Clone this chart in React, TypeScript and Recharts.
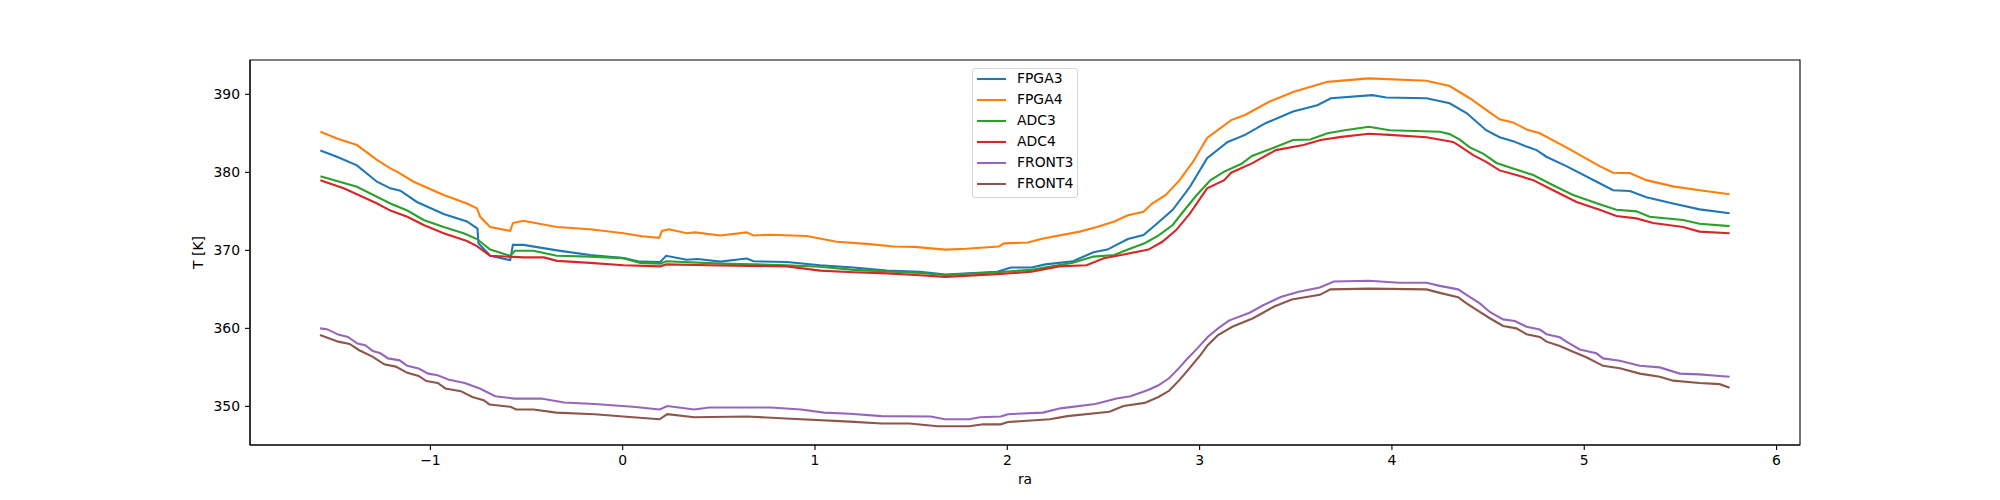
import { LineChart, Line, XAxis, YAxis, Legend, ReferenceArea } from "recharts";

// readings taken off the reference plot: [ra, T in K]
const FPGA3 = [
  [-1.572, 382.8], [-1.486, 382.0], [-1.382, 380.9], [-1.278, 378.8], [-1.208, 377.95], [-1.156, 377.65],
  [-1.07, 376.2], [-0.931, 374.65], [-0.81, 373.7], [-0.755, 372.8], [-0.75, 370.9], [-0.689, 369.3],
  [-0.585, 368.75], [-0.571, 370.7], [-0.516, 370.7], [-0.342, 370.0], [-0.169, 369.4], [0.004, 369.0],
  [0.091, 368.55], [0.195, 368.5], [0.226, 369.3], [0.333, 368.8], [0.39, 368.9], [0.507, 368.55],
  [0.61, 368.85], [0.645, 368.95], [0.68, 368.6], [0.853, 368.5], [1.027, 368.1], [1.2, 367.8],
  [1.373, 367.4], [1.546, 367.25], [1.678, 366.9], [1.947, 367.25], [2.019, 367.8], [2.126, 367.8],
  [2.198, 368.2], [2.341, 368.6], [2.448, 369.75], [2.52, 370.1], [2.627, 371.45], [2.708, 371.95],
  [2.77, 373.25], [2.86, 375.2], [2.95, 378.15], [3.039, 381.8], [3.146, 383.9], [3.236, 384.8],
  [3.343, 386.3], [3.486, 387.8], [3.612, 388.6], [3.683, 389.5], [3.898, 389.9], [3.97, 389.6],
  [4.18, 389.5], [4.3, 388.85], [4.388, 387.6], [4.49, 385.4], [4.56, 384.5], [4.63, 384.0],
  [4.7, 383.3], [4.752, 382.85], [4.803, 382.0], [4.907, 380.8], [5.08, 378.6], [5.15, 377.7],
  [5.237, 377.6], [5.323, 376.8], [5.462, 376.0], [5.6, 375.25], [5.756, 374.75],
];

const FPGA4 = [
  [-1.572, 385.2], [-1.486, 384.35], [-1.382, 383.5], [-1.278, 381.6], [-1.208, 380.5], [-1.174, 380.1],
  [-1.087, 378.8], [-0.931, 377.1], [-0.81, 376.0], [-0.758, 375.4], [-0.741, 374.3], [-0.689, 373.0],
  [-0.585, 372.5], [-0.571, 373.5], [-0.516, 373.8], [-0.342, 373.0], [-0.169, 372.7], [0.004, 372.2],
  [0.1, 371.8], [0.19, 371.6], [0.204, 372.5], [0.24, 372.7], [0.333, 372.2], [0.376, 372.3],
  [0.507, 371.9], [0.645, 372.3], [0.68, 371.9], [0.767, 372.0], [0.957, 371.85], [1.113, 371.1],
  [1.286, 370.8], [1.406, 370.5], [1.517, 370.45], [1.678, 370.1], [1.786, 370.2], [1.956, 370.5],
  [1.983, 370.9], [2.108, 371.0], [2.18, 371.5], [2.377, 372.4], [2.466, 373.0], [2.556, 373.7],
  [2.627, 374.5], [2.708, 374.95], [2.753, 376.0], [2.824, 377.1], [2.896, 379.0], [2.967, 381.4],
  [3.039, 384.4], [3.164, 386.7], [3.236, 387.35], [3.361, 389.05], [3.486, 390.3], [3.665, 391.6],
  [3.88, 392.05], [4.18, 391.75], [4.3, 391.06], [4.405, 389.5], [4.49, 388.0], [4.56, 386.8],
  [4.63, 386.4], [4.7, 385.5], [4.769, 385.0], [4.907, 383.2], [5.08, 380.8], [5.15, 379.95],
  [5.237, 379.9], [5.323, 379.0], [5.462, 378.2], [5.6, 377.7], [5.756, 377.2],
];

const ADC3 = [
  [-1.572, 379.5], [-1.382, 378.15], [-1.208, 376.0], [-1.12, 375.1], [-1.035, 373.9], [-0.931, 373.0],
  [-0.827, 372.2], [-0.758, 371.45], [-0.689, 370.1], [-0.585, 369.3], [-0.56, 369.95], [-0.464, 369.95],
  [-0.342, 369.3], [-0.169, 369.2], [0.004, 369.0], [0.091, 368.4], [0.195, 368.3], [0.226, 368.6],
  [0.507, 368.3], [0.853, 368.1], [1.027, 367.9], [1.2, 367.5], [1.373, 367.3], [1.546, 367.1],
  [1.678, 366.85], [1.947, 367.2], [2.126, 367.5], [2.341, 368.4], [2.448, 369.2], [2.556, 369.4],
  [2.627, 370.1], [2.717, 370.95], [2.789, 371.95], [2.86, 373.25], [2.914, 374.95], [2.985, 377.1],
  [3.057, 379.0], [3.128, 380.1], [3.218, 381.1], [3.272, 382.1], [3.379, 383.1], [3.486, 384.15],
  [3.576, 384.2], [3.665, 385.0], [3.755, 385.4], [3.88, 385.85], [3.988, 385.4], [4.25, 385.2],
  [4.3, 384.9], [4.353, 384.2], [4.405, 383.2], [4.474, 382.4], [4.544, 381.2], [4.63, 380.5],
  [4.735, 379.65], [4.838, 378.35], [4.942, 377.1], [5.08, 375.9], [5.167, 375.2], [5.271, 375.0],
  [5.34, 374.3], [5.514, 373.9], [5.6, 373.4], [5.756, 373.1],
];

const ADC4 = [
  [-1.572, 379.0], [-1.451, 377.95], [-1.382, 377.2], [-1.277, 376.0], [-1.208, 375.1], [-1.12, 374.3],
  [-1.035, 373.25], [-0.931, 372.2], [-0.81, 371.2], [-0.758, 370.55], [-0.689, 369.3], [-0.516, 369.1],
  [-0.41, 369.1], [-0.342, 368.65], [-0.169, 368.4], [0.004, 368.1], [0.195, 367.95], [0.226, 368.2],
  [0.507, 368.05], [0.853, 367.95], [1.027, 367.4], [1.2, 367.2], [1.373, 367.05], [1.546, 366.8],
  [1.678, 366.6], [1.947, 366.95], [2.126, 367.25], [2.269, 367.95], [2.412, 368.1], [2.502, 369.0],
  [2.592, 369.4], [2.734, 370.1], [2.806, 371.1], [2.878, 372.6], [2.95, 374.75], [3.039, 377.95],
  [3.128, 379.0], [3.164, 379.95], [3.272, 381.15], [3.397, 382.85], [3.54, 383.5], [3.629, 384.15],
  [3.737, 384.55], [3.88, 384.95], [3.988, 384.8], [4.18, 384.5], [4.318, 383.9], [4.353, 383.35],
  [4.423, 382.2], [4.49, 381.35], [4.56, 380.25], [4.647, 379.65], [4.735, 379.0], [4.838, 377.7],
  [4.96, 376.2], [5.08, 375.2], [5.167, 374.4], [5.271, 374.1], [5.358, 373.5], [5.514, 373.0],
  [5.6, 372.4], [5.756, 372.2],
];

const FRONT3 = [
  [-1.574, 360.0], [-1.538, 359.9], [-1.479, 359.2], [-1.429, 358.9], [-1.379, 358.05], [-1.339, 357.85],
  [-1.299, 357.1], [-1.26, 356.8], [-1.22, 356.15], [-1.16, 355.9], [-1.12, 355.2], [-1.061, 354.85],
  [-1.011, 354.2], [-0.962, 354.0], [-0.902, 353.4], [-0.822, 353.0], [-0.743, 352.3], [-0.663, 351.3],
  [-0.564, 351.0], [-0.424, 351.0], [-0.305, 350.5], [-0.146, 350.3], [0.053, 349.95], [0.192, 349.6],
  [0.232, 350.05], [0.372, 349.6], [0.45, 349.85], [0.769, 349.85], [0.928, 349.6], [1.047, 349.2],
  [1.182, 349.05], [1.347, 348.75], [1.602, 348.7], [1.675, 348.35], [1.802, 348.35], [1.857, 348.6],
  [1.966, 348.7], [2.003, 349.0], [2.185, 349.2], [2.276, 349.75], [2.458, 350.3], [2.568, 351.0],
  [2.641, 351.3], [2.732, 352.1], [2.786, 352.7], [2.841, 353.6], [2.896, 355.0], [2.932, 356.0],
  [2.987, 357.4], [3.042, 358.9], [3.096, 360.0], [3.152, 361.0], [3.26, 362.0], [3.333, 363.0],
  [3.425, 364.05], [3.516, 364.7], [3.625, 365.25], [3.698, 366.0], [3.88, 366.1], [4.04, 365.85],
  [4.18, 365.85], [4.249, 365.45], [4.344, 365.0], [4.388, 364.3], [4.457, 363.2], [4.509, 362.1],
  [4.578, 361.15], [4.639, 360.95], [4.7, 360.2], [4.769, 359.85], [4.804, 359.25], [4.873, 358.85],
  [4.907, 358.3], [4.977, 357.3], [5.063, 356.8], [5.098, 356.15], [5.185, 355.85], [5.289, 355.2],
  [5.393, 355.0], [5.497, 354.2], [5.6, 354.1], [5.704, 353.9], [5.756, 353.8],
];

const FRONT4 = [
  [-1.574, 359.15], [-1.479, 358.3], [-1.42, 358.0], [-1.37, 357.2], [-1.299, 356.35], [-1.24, 355.4],
  [-1.18, 355.1], [-1.12, 354.3], [-1.061, 353.9], [-1.021, 353.25], [-0.962, 353.0], [-0.922, 352.3],
  [-0.842, 351.95], [-0.782, 351.2], [-0.723, 350.8], [-0.693, 350.25], [-0.584, 349.95], [-0.554, 349.6],
  [-0.464, 349.6], [-0.345, 349.2], [-0.146, 349.0], [0.053, 348.6], [0.192, 348.35], [0.232, 349.0],
  [0.372, 348.6], [0.649, 348.7], [0.848, 348.45], [1.182, 348.05], [1.347, 347.8], [1.49, 347.8],
  [1.639, 347.45], [1.802, 347.45], [1.875, 347.7], [1.966, 347.7], [2.003, 348.0], [2.221, 348.35],
  [2.312, 348.75], [2.531, 349.3], [2.604, 350.05], [2.714, 350.45], [2.786, 351.2], [2.841, 352.0],
  [2.896, 353.4], [2.951, 355.0], [3.005, 356.6], [3.042, 357.85], [3.096, 359.15], [3.17, 360.2],
  [3.278, 361.3], [3.388, 362.8], [3.479, 363.7], [3.625, 364.3], [3.68, 365.0], [3.88, 365.1],
  [4.18, 365.0], [4.249, 364.55], [4.344, 364.0], [4.388, 363.2], [4.457, 362.1], [4.509, 361.3],
  [4.578, 360.3], [4.647, 360.0], [4.7, 359.25], [4.769, 358.9], [4.804, 358.3], [4.873, 357.75],
  [4.942, 357.0], [5.011, 356.3], [5.098, 355.2], [5.185, 354.9], [5.289, 354.2], [5.393, 353.8],
  [5.462, 353.3], [5.6, 353.0], [5.704, 352.85], [5.756, 352.4],
];

const xTicks = [-1, 0, 1, 2, 3, 4, 5, 6];
const yTicks = [350, 360, 370, 380, 390];

const X_DOMAIN: [number, number] = [-1.938, 6.122];
const Y_DOMAIN: [number, number] = [345.05, 394.4];

const FONT = "'DejaVu Sans', sans-serif";
const FS = 13.9;

const series = [
  { name: "FPGA3", pts: FPGA3, color: "#1f77b4" },
  { name: "FPGA4", pts: FPGA4, color: "#ff7f0e" },
  { name: "ADC3", pts: ADC3, color: "#2ca02c" },
  { name: "ADC4", pts: ADC4, color: "#d62728" },
  { name: "FRONT3", pts: FRONT3, color: "#9467bd" },
  { name: "FRONT4", pts: FRONT4, color: "#8c564b" },
];
const seriesOrder = series.map((s) => s.name);

const toRows = (pts: number[][]) => pts.map(([ra, t]) => ({ ra, t }));

const fmtMinus = (v: number) => String(v).replace("-", "\u2212");

const YLabel = ({ viewBox }: any) => {
  const x = viewBox.x + 13;
  const y = viewBox.y + viewBox.height / 2;
  return (
    <text x={x} y={y} transform={`rotate(-90 ${x} ${y})`} textAnchor="middle" fill="#000" fontSize={FS} fontFamily={FONT}>
      T [K]
    </text>
  );
};

const XLabel = ({ viewBox }: any) => (
  <text x={viewBox.x + viewBox.width / 2} y={viewBox.y + 38.5} textAnchor="middle" fill="#000" fontSize={FS} fontFamily={FONT}>
    ra
  </text>
);

// keep the plotting order (recharts sorts legend items by name)
const LegendBox = ({ payload }: any) => {
  const items = [...(payload || [])].sort(
    (a: any, b: any) => seriesOrder.indexOf(a.value) - seriesOrder.indexOf(b.value)
  );
  return (
    <div
      style={{
        boxSizing: "border-box",
        width: 106,
        padding: "0 0 3px 4px",
        background: "rgba(255,255,255,0.8)",
        border: "1px solid #d5d5d5",
        borderRadius: 3,
        fontFamily: FONT,
        fontSize: FS,
        color: "#000",
      }}
    >
      {items.map((entry: any) => (
        <div key={entry.value} style={{ display: "flex", alignItems: "center", height: 20.87 }}>
          <svg width={29} height={4} style={{ display: "block" }}>
            <line x1={0} y1={2} x2={29} y2={2} stroke={entry.color} strokeWidth={2.1} />
          </svg>
          <span style={{ marginLeft: 11, lineHeight: 1 }}>{entry.value}</span>
        </div>
      ))}
    </div>
  );
};

export default function App() {
  return (
    <div style={{ position: "absolute", left: 0, top: 0, fontFamily: FONT, background: "#fff" }}>
      <LineChart width={2000} height={500} margin={{ top: 60, right: 200, bottom: 25, left: 190 }}>
        <XAxis
          dataKey="ra"
          type="number"
          domain={X_DOMAIN}
          allowDataOverflow
          ticks={xTicks}
          tickFormatter={fmtMinus}
          height={30}
          tickSize={5}
          tickMargin={5}
          tick={{ fill: "#000", fontSize: FS, fontFamily: FONT }}
          tickLine={{ stroke: "#000", strokeWidth: 1.1 }}
          axisLine={{ stroke: "#000", strokeWidth: 1.1 }}
          label={<XLabel />}
        />
        <YAxis
          type="number"
          domain={Y_DOMAIN}
          allowDataOverflow
          ticks={yTicks}
          width={60}
          tickSize={5}
          tickMargin={5}
          tick={{ fill: "#000", fontSize: FS, fontFamily: FONT }}
          tickLine={{ stroke: "#000", strokeWidth: 1.1 }}
          axisLine={{ stroke: "#000", strokeWidth: 1.1 }}
          label={<YLabel />}
        />
        <ReferenceArea
          x1={X_DOMAIN[0]}
          x2={X_DOMAIN[1]}
          y1={Y_DOMAIN[0]}
          y2={Y_DOMAIN[1]}
          fill="none"
          fillOpacity={0}
          stroke="#000"
          strokeWidth={1.1}
          ifOverflow="visible"
        />
        {series.map((s) => (
          <Line
            key={s.name}
            name={s.name}
            data={toRows(s.pts)}
            dataKey="t"
            type="linear"
            stroke={s.color}
            strokeWidth={2.1}
            dot={false}
            activeDot={false}
            isAnimationActive={false}
          />
        ))}
        <Legend
          layout="vertical"
          align="center"
          verticalAlign="middle"
          wrapperStyle={{ left: 972, top: 68, width: 106, height: "auto" }}
          content={<LegendBox />}
        />
      </LineChart>
    </div>
  );
}
